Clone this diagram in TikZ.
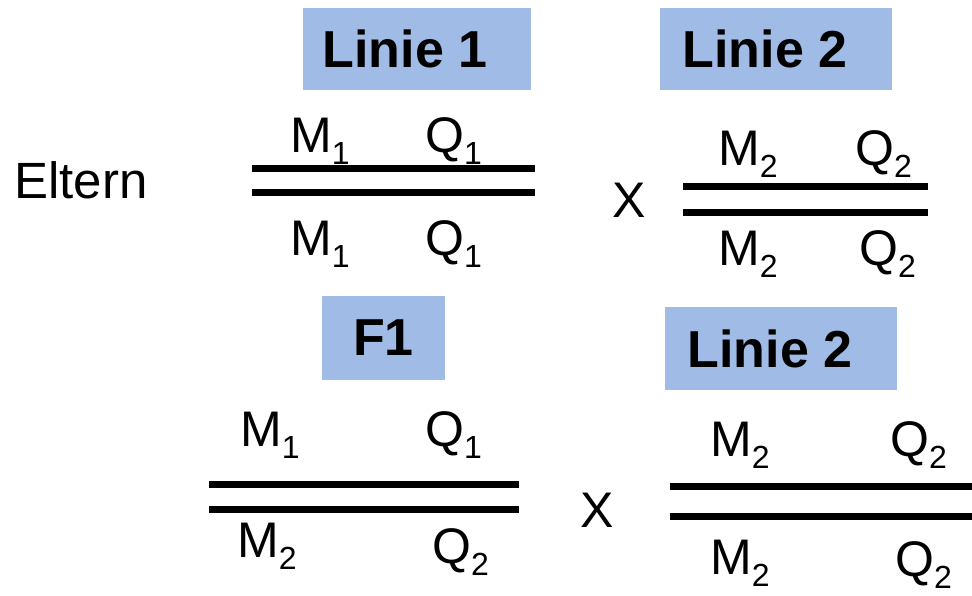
\documentclass[tikz,border=0pt]{standalone}
\usepackage{fontspec}
\setmainfont{Liberation Sans}
\definecolor{boxblue}{RGB}{159,187,230}
\newcommand{\sbs}[1]{\raisebox{-12pt}{\fontsize{32}{32}\selectfont #1}}
\tikzset{
  lbl/.style={inner sep=0pt, anchor=base west, font=\fontsize{50}{50}\selectfont},
  chrom/.style={line width=7pt},
  head/.style={fill=boxblue, inner sep=0pt, font=\fontsize{52}{52}\selectfont\bfseries}
}
\begin{document}
\begin{tikzpicture}[x=1pt,y=-1pt]
\useasboundingbox (0,0) rectangle (972,595);
% header boxes
\node[head, minimum width=228pt, minimum height=82pt] (h1) at (417,49) {Linie 1\hspace*{24pt}};
\node[head, minimum width=232pt, minimum height=82pt] (h2) at (776,49) {Linie 2\hspace*{22pt}};
\node[head, minimum width=123pt, minimum height=84pt] (h3) at (383.5,338) {F1};
\node[head, minimum width=232pt, minimum height=83pt] (h4) at (781,348.5) {Linie 2\hspace*{22pt}};
% labels
\node[lbl, font=\fontsize{51}{51}\selectfont] (eltern) at (14,198) {Eltern};
\node[lbl] (x1) at (612,217) {X};
\node[lbl] (x2) at (580,527) {X};
% parent 1
\coordinate (p1a) at (252,168); \coordinate (p1b) at (535,168);
\coordinate (p1c) at (252,192); \coordinate (p1d) at (535,192);
\draw[chrom] (p1a) -- (p1b);
\draw[chrom] (p1c) -- (p1d);
\node[lbl] (p1m1) at (290,152) {M\sbs{1}};
\node[lbl] (p1q1) at (425,152) {Q\sbs{1}};
\node[lbl] (p1m2) at (290,255) {M\sbs{1}};
\node[lbl] (p1q2) at (425,255) {Q\sbs{1}};
% parent 2
\coordinate (p2a) at (683,186); \coordinate (p2b) at (928,186);
\coordinate (p2c) at (683,212); \coordinate (p2d) at (928,212);
\draw[chrom] (p2a) -- (p2b);
\draw[chrom] (p2c) -- (p2d);
\node[lbl] (p2m1) at (718,165) {M\sbs{2}};
\node[lbl] (p2q1) at (855,165) {Q\sbs{2}};
\node[lbl] (p2m2) at (718,265) {M\sbs{2}};
\node[lbl] (p2q2) at (859,265) {Q\sbs{2}};
% F1
\coordinate (f1a) at (209,484); \coordinate (f1b) at (519,484);
\coordinate (f1c) at (209,509); \coordinate (f1d) at (519,509);
\draw[chrom] (f1a) -- (f1b);
\draw[chrom] (f1c) -- (f1d);
\node[lbl] (f1m1) at (240,446) {M\sbs{1}};
\node[lbl] (f1q1) at (425,446) {Q\sbs{1}};
\node[lbl] (f1m2) at (237,557) {M\sbs{2}};
\node[lbl] (f1q2) at (432,563) {Q\sbs{2}};
% Linie 2 bottom
\coordinate (l2a) at (670,486); \coordinate (l2b) at (972,486);
\coordinate (l2c) at (670,516); \coordinate (l2d) at (972,516);
\draw[chrom] (l2a) -- (l2b);
\draw[chrom] (l2c) -- (l2d);
\node[lbl] (l2m1) at (710,456) {M\sbs{2}};
\node[lbl] (l2q1) at (890,456) {Q\sbs{2}};
\node[lbl] (l2m2) at (710,574) {M\sbs{2}};
\node[lbl] (l2q2) at (895,576) {Q\sbs{2}};
\end{tikzpicture}
\end{document}
